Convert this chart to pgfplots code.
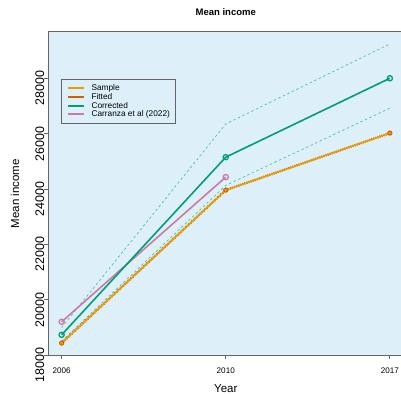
\documentclass[border=0pt]{standalone}
\usepackage{pgfplots}
\pgfplotsset{compat=1.18}
\usepackage{fontspec}
\setmainfont{Liberation Sans}
\definecolor{bgblue}{RGB}{221,240,250}
\definecolor{cOrange}{HTML}{E69F00}
\definecolor{cVerm}{HTML}{D55E00}
\definecolor{cGreen}{HTML}{009E73}
\definecolor{cPink}{HTML}{CC79A7}
\definecolor{cDash}{RGB}{80,190,165}
\definecolor{axgray}{RGB}{100,100,100}
\begin{document}
\begin{tikzpicture}
\useasboundingbox (0pt,0pt) rectangle (401pt,395pt);
\begin{axis}[
  at={(48.5pt,39.5pt)}, anchor=south west,
  scale only axis, width=354.5pt, height=323.8pt,
  xmin=-0.08, xmax=2.08, ymin=17982, ymax=29684,
  axis background/.style={fill=bgblue},
  axis line style={draw=axgray, line width=0.8pt},
  xtick={0,1,2}, xticklabels={2006,2010,2017},
  ytick={18000,20000,22000,24000,26000,28000},
  scaled y ticks=false,
  tick align=outside, major tick length=4pt,
  tick style={draw=axgray, line width=0.8pt},
  xtick pos=bottom, ytick pos=left,
  /pgf/number format/assume math mode=true,
  /pgf/number format/set thousands separator={},
  xticklabel style={font=\fontsize{8.1}{9}\selectfont, anchor=north, inner sep=0pt, yshift=-8.5pt},
  yticklabel style={font=\fontsize{12.5}{14}\selectfont, rotate=90, anchor=south, inner sep=0pt, xshift=-10pt},
  xlabel={Year}, ylabel={Mean income},
  xlabel style={font=\fontsize{11.5}{13}\selectfont, at={(axis description cs:0.5,0)}, anchor=center, yshift=-33.5pt},
  ylabel style={font=\fontsize{11.5}{13}\selectfont, at={(axis description cs:0,0.5)}, anchor=center, rotate=0, yshift=33.5pt},
  title={Mean income},
  title style={font=\bfseries\fontsize{9.5}{11}\selectfont, at={(axis description cs:0.5,1)}, anchor=center, yshift=13.7pt},
  legend style={at={(0.0353,0.8545)}, anchor=north west, draw=axgray, line width=0.6pt, fill=none,
    font=\fontsize{8.3}{9.8}\selectfont, inner xsep=5.5pt, inner ysep=4.8pt, row sep=0.5pt, column sep=6.7pt,
    nodes={inner sep=0pt, text height=6.5pt, text depth=1.8pt}},
  legend cell align=left,
]
% confidence bands (dashed)
\addplot[cDash, line width=0.7pt, dash pattern=on 2.5pt off 2.5pt, forget plot] coordinates {(0,18990) (1,26350) (2,29240)};
\addplot[cDash, line width=0.7pt, dash pattern=on 2.5pt off 2.5pt, forget plot] coordinates {(0,18500) (1,24130) (2,26920)};
% Carranza
\addplot[draw=cPink, line width=1.6pt, mark=o, mark size=2.6pt, mark options={line width=1.3pt, fill=bgblue, solid}, forget plot] coordinates {(0,19200) (1,24430)};
% Corrected
\addplot[draw=cGreen, line width=1.6pt, mark=o, mark size=2.6pt, mark options={line width=1.3pt, fill=bgblue, solid}, forget plot] coordinates {(0,18730) (1,25150) (2,28000)};
% Fitted
\addplot[draw=cVerm, line width=2.4pt, dash pattern=on 1pt off 1.2pt, mark=*, mark size=2.1pt, mark options={solid, fill=cOrange, draw=cVerm, line width=1pt}, forget plot] coordinates {(0,18430) (1,23960) (2,26020)};
% Sample
\addplot[draw=cOrange, line width=1.5pt, forget plot] coordinates {(0,18430) (1,23960) (2,26020)};
% legend
\addlegendimage{legend image code/.code={\draw[cOrange, line width=2pt] (0pt,0pt) -- (16pt,0pt);}}
\addlegendentry{Sample}
\addlegendimage{legend image code/.code={\draw[cVerm, line width=2pt] (0pt,0pt) -- (16pt,0pt);}}
\addlegendentry{Fitted}
\addlegendimage{legend image code/.code={\draw[cGreen, line width=2pt] (0pt,0pt) -- (16pt,0pt);}}
\addlegendentry{Corrected}
\addlegendimage{legend image code/.code={\draw[cPink, line width=2pt] (0pt,0pt) -- (16pt,0pt);}}
\addlegendentry{Carranza et al (2022)}
\end{axis}
\end{tikzpicture}
\end{document}
